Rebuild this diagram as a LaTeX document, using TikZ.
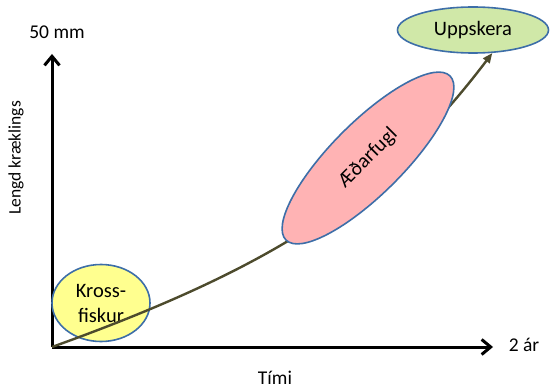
\documentclass[tikz,border=0pt]{standalone}
\usepackage{fontspec}
\setmainfont{Carlito}
\usetikzlibrary{arrows.meta,shapes.geometric}
\definecolor{growthcol}{HTML}{4D4B2D}
\definecolor{edgeblue}{HTML}{3D6EA8}
\definecolor{krossyellow}{HTML}{FFFF8F}
\definecolor{aedpink}{HTML}{FFB3B4}
\definecolor{uppgreen}{HTML}{D0E8A8}
\begin{document}
\begin{tikzpicture}[x=1pt,y=-1pt,
    axis/.style={line width=3pt,-{Straight Barb[length=9pt,width=15pt]}},
    growth/.style={line width=2.4pt,growthcol,-{Triangle[length=10pt,width=8pt]}},
    blob/.style={ellipse,draw=edgeblue,line width=1.6pt,inner sep=0pt,align=center,font=\fontsize{20.5}{25}\selectfont},
    lbl/.style={font=\fontsize{19.5}{22}\selectfont}]
    \useasboundingbox(0,0)rectangle(551,390);
    \coordinate(o)at(52,347);
    \coordinate(xtip)at(493,347);
    \coordinate(ytip)at(52,54);
    \draw[axis](o)--(xtip);
    \draw[axis](o)--(ytip);
    \node[lbl](ymax)at(57,32){50 mm};
    \node[lbl](xmax)at(524,345){2 ár};
    \node[lbl](xname)at(275,378){Tími};
    \node[lbl,rotate=90,font=\fontsize{17.5}{20}\selectfont](yname)at(16,158){Lengd kræklings};

    \node[blob,fill=krossyellow,minimum width=98pt,minimum height=77pt](kross)at(101,303){Kross-\\fiskur};
    \node[blob,fill=uppgreen,minimum width=151pt,minimum height=46pt](upp)at(473,30){Uppskera};
    \draw[growth](o)..controls(280,265)and(386,193)..(upp.-50);
    \node[blob,fill=aedpink,rotate=45,minimum width=232pt,minimum height=72pt](aed)at(368,158){Æðarfugl};
\end{tikzpicture}
\end{document}
